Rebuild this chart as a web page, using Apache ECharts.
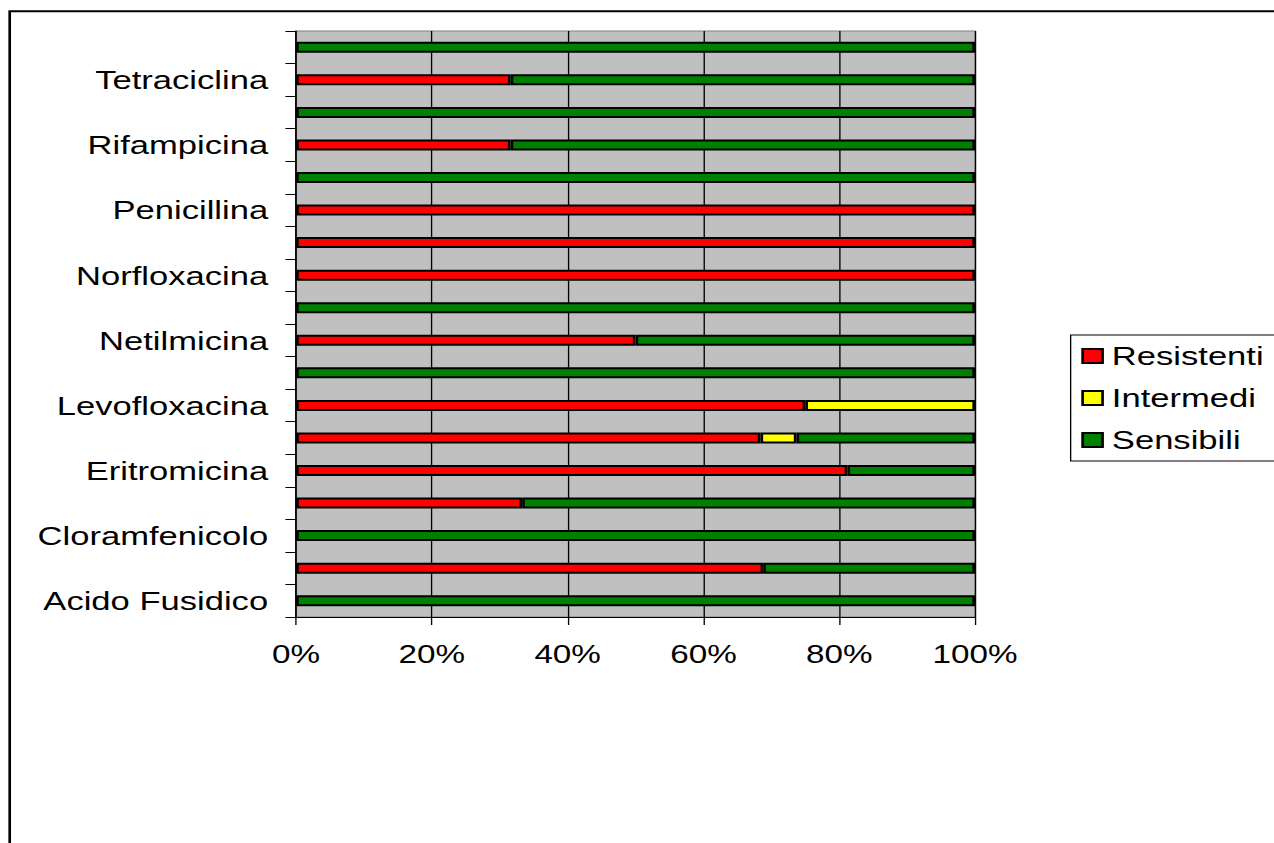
<!DOCTYPE html>
<html>
<head>
<meta charset="utf-8">
<script src="https://cdn.jsdelivr.net/npm/echarts@6/dist/echarts.min.js"></script>
<style>
  html, body { margin: 0; padding: 0; background: #fff; overflow: hidden; width: 1274px; height: 843px; }
  #wrap { width: 1274px; height: 843px; overflow: hidden; position: relative; }
  #chart { width: 958px; height: 843px; transform: scaleX(1.33); transform-origin: 0 0; }
</style>
</head>
<body>
<div id="wrap"><div id="chart"></div></div>
<script>
const categories = ['Acido Fusidico', 'Ciprofloxacina', 'Cloramfenicolo', 'Cotrimossazolo', 'Eritromicina',
  'Gentamicina', 'Levofloxacina', 'Linezolid', 'Netilmicina', 'Nitrofurantoina', 'Norfloxacina',
  'Oxacillina', 'Penicillina', 'Quinupristina/Dalfopristina', 'Rifampicina', 'Teicoplanina',
  'Tetraciclina', 'Vancomicina'];
const resistenti = [0, 68.8, 0, 33.3, 81.2, 68.4, 75, 0, 50, 0, 100, 100, 100, 0, 31.6, 0, 31.6, 0];
const intermedi  = [0, 0, 0, 0, 0, 5.3, 25, 0, 0, 0, 0, 0, 0, 0, 0, 0, 0, 0];
const sensibili  = [100, 31.2, 100, 66.7, 18.8, 26.3, 0, 100, 50, 100, 0, 0, 0, 100, 68.4, 100, 68.4, 100];
const seriesNames = ['Resistenti', 'Intermedi', 'Sensibili'];
const xTicks = [0, 20, 40, 60, 80, 100];

const FONT = "'Liberation Sans', Arial, sans-serif";
const colors = ['#FF0000', '#FFFF00', '#008000'];
const chart = echarts.init(document.getElementById('chart'), null, { renderer: 'svg' });

const mk = (name, arr, i) => ({
  name: name,
  type: 'bar',
  stack: 'total',
  barWidth: 11,
  data: arr.map(v => (v === 0 ? '-' : v)),
  itemStyle: { color: colors[i], borderColor: '#000', borderWidth: 2 },
  emphasis: { disabled: true },
  animation: false
});

chart.setOption({
  animation: false,
  backgroundColor: '#fff',
  textStyle: { fontFamily: FONT },
  grid: {
    left: 222.6, right: 224.9, top: 31, bottom: 226,
    show: true, backgroundColor: '#C0C0C0', borderColor: '#808080', borderWidth: 1
  },
  legend: {
    orient: 'vertical',
    left: 805, top: 335,
    padding: [8, 14, 8, 8],
    itemGap: 16,
    itemWidth: 15, itemHeight: 14,
    borderColor: '#000', borderWidth: 1,
    icon: 'rect',
    data: seriesNames,
    textStyle: { fontSize: 26, color: '#000', fontFamily: FONT, padding: [0, 0, 0, 2] },
    itemStyle: { borderColor: '#000', borderWidth: 2 }
  },
  xAxis: {
    type: 'value',
    min: xTicks[0], max: xTicks[xTicks.length - 1], interval: xTicks[1] - xTicks[0],
    axisLine: { show: true, lineStyle: { color: '#000', width: 1 } },
    axisTick: { show: true, length: 8, lineStyle: { color: '#000' } },
    splitLine: { show: true, lineStyle: { color: '#000', width: 1 } },
    axisLabel: { formatter: '{value}%', fontSize: 25, color: '#000', margin: 25, fontFamily: FONT }
  },
  yAxis: {
    type: 'category',
    data: categories,
    axisLine: { show: true, lineStyle: { color: '#000', width: 1 } },
    axisTick: { show: true, length: 8, interval: 0, alignWithLabel: false, lineStyle: { color: '#000' } },
    axisLabel: { interval: 1, fontSize: 26, color: '#000', margin: 21, fontFamily: FONT },
    splitLine: { show: false }
  },
  graphic: [{
    type: 'rect',
    shape: { x: 7.3, y: 11.2, width: 3000, height: 3000 },
    style: { fill: 'none', stroke: '#000', lineWidth: 2 },
    silent: true, z: 100
  }],
  series: [mk(seriesNames[0], resistenti, 0), mk(seriesNames[1], intermedi, 1), mk(seriesNames[2], sensibili, 2)]
});
</script>
</body>
</html>
